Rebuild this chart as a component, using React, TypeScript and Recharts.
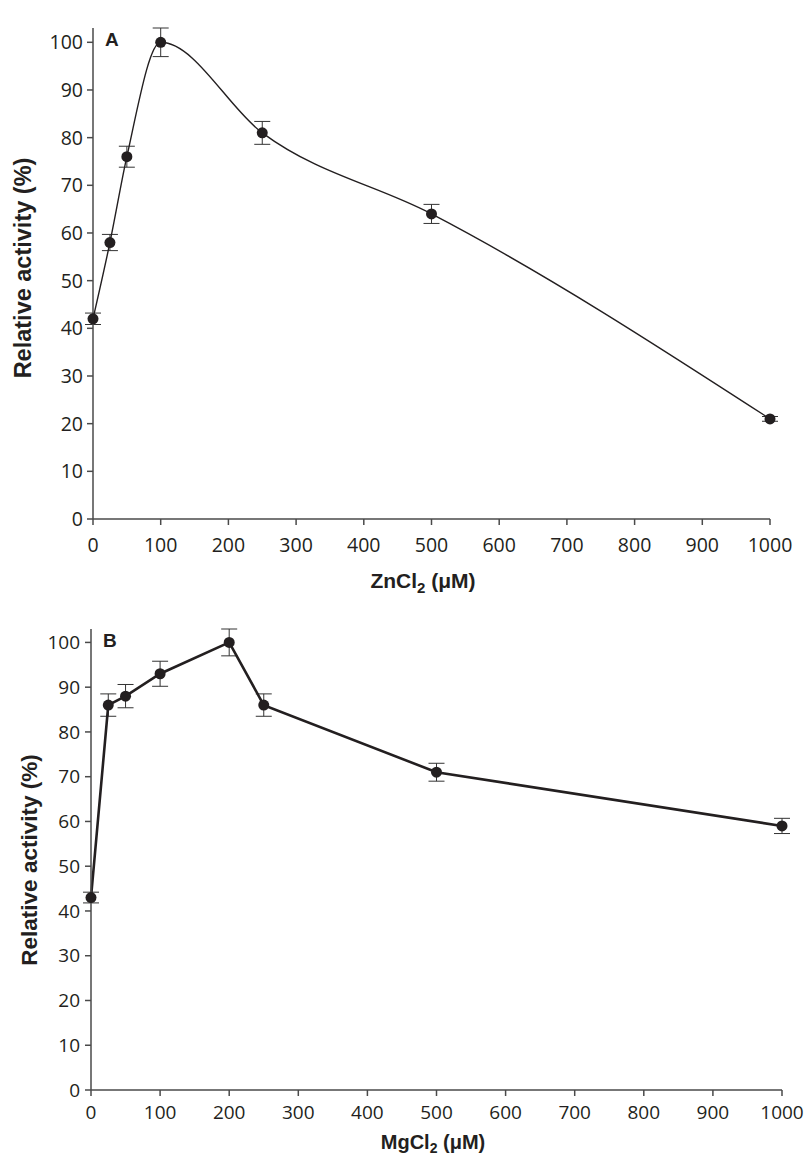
import { LineChart, Line, XAxis, YAxis, ErrorBar } from 'recharts';

// Panel A — ZnCl2
const znConc = [0, 25, 50, 100, 250, 500, 1000];
const znActivity = [42, 58, 76, 100, 81, 64, 21];
const znError = [1.2, 1.7, 2.2, 3, 2.4, 2, 0.5];

// Panel B — MgCl2
const mgConc = [0, 25, 50, 100, 200, 250, 500, 1000];
const mgActivity = [43, 86, 88, 93, 100, 86, 71, 59];
const mgError = [1.2, 2.5, 2.6, 2.8, 3, 2.5, 2, 1.7];

const xTicks = [0, 100, 200, 300, 400, 500, 600, 700, 800, 900, 1000];
const yTicks = [0, 10, 20, 30, 40, 50, 60, 70, 80, 90, 100];

const INK = '#231f20';
const AXIS = '#4a4a4a';
const TICK_FONT = '"Open Sans", "DejaVu Sans", sans-serif';
const TITLE_FONT = '"Liberation Sans", Arial, sans-serif';

const znData = znConc.map((x, i) => ({ x, y: znActivity[i], err: znError[i] }));
const mgData = mgConc.map((x, i) => ({ x, y: mgActivity[i], err: mgError[i] }));

type PanelProps = {
  data: { x: number; y: number; err: number }[];
  top: number;
  height: number;
  marginTop: number;
  marginRight: number;
  yAxisWidth: number;
  xAxisHeight: number;
  curve: 'monotone' | 'linear';
  lineWidth: number;
  xTickSize: number;
  yTickSize: number;
  xTickMargin: number;
  yTickMargin: number;
};

function Panel(p: PanelProps) {
  return (
    <div style={{ position: 'absolute', left: 0, top: p.top }}>
      <LineChart
        width={806}
        height={p.height}
        data={p.data}
        margin={{ top: p.marginTop, right: p.marginRight, bottom: 0, left: 0 }}
      >
        <XAxis
          dataKey="x"
          type="number"
          domain={[0, 1000]}
          ticks={xTicks}
          height={p.xAxisHeight}
          tickSize={6}
          tickMargin={p.xTickMargin}
          stroke={AXIS}
          strokeWidth={1.5}
          tick={{ fontSize: p.xTickSize, fill: INK, fontFamily: TICK_FONT }}
        />
        <YAxis
          type="number"
          domain={[0, 100]}
          ticks={yTicks}
          width={p.yAxisWidth}
          tickSize={6}
          tickMargin={p.yTickMargin}
          stroke={AXIS}
          strokeWidth={1.5}
          tick={{ fontSize: p.yTickSize, fill: INK, fontFamily: TICK_FONT }}
        />
        <Line
          type={p.curve}
          dataKey="y"
          stroke={INK}
          strokeWidth={p.lineWidth}
          dot={{ r: 5.5, fill: INK, stroke: INK, strokeWidth: 0 }}
          activeDot={false}
          isAnimationActive={false}
        >
          <ErrorBar dataKey="err" direction="y" width={8} stroke="#333" strokeWidth={1} />
        </Line>
      </LineChart>
    </div>
  );
}

export default function App() {
  return (
    <div style={{ position: 'absolute', left: 0, top: 0, width: 806, height: 1157, background: '#fff' }}>
      <Panel
        data={znData}
        top={0}
        height={600}
        marginTop={28}
        marginRight={36}
        yAxisWidth={93}
        xAxisHeight={81}
        curve="monotone"
        lineWidth={1.4}
        xTickSize={19.5}
        yTickSize={19.5}
        xTickMargin={13}
        yTickMargin={4}
      />
      <Panel
        data={mgData}
        top={600}
        height={557}
        marginTop={29}
        marginRight={24}
        yAxisWidth={91}
        xAxisHeight={67}
        curve="linear"
        lineWidth={2.6}
        xTickSize={19}
        yTickSize={19}
        xTickMargin={10}
        yTickMargin={5}
      />
      <svg
        width={806}
        height={1157}
        style={{ position: 'absolute', left: 0, top: 0, pointerEvents: 'none' }}
      >
        <g fontFamily={TITLE_FONT} fontWeight="bold" fill={INK}>
          <text x={105} y={46} fontSize={19}>A</text>
          <text x={103} y={647} fontSize={19}>B</text>

          <text x={423} y={588} fontSize={21} textAnchor="middle">
            ZnCl<tspan fontSize={15} dy={5}>2</tspan>
            <tspan dy={-5}> (μM)</tspan>
          </text>
          <text x={433} y={1149} fontSize={20} textAnchor="middle">
            MgCl<tspan fontSize={14} dy={4}>2</tspan>
            <tspan dy={-4}> (μM)</tspan>
          </text>

          <text
            transform="translate(31 268) rotate(-90)"
            fontSize={23.5}
            textAnchor="middle"
          >
            Relative activity (%)
          </text>
          <text
            transform="translate(37 860) rotate(-90)"
            fontSize={22.5}
            textAnchor="middle"
          >
            Relative activity (%)
          </text>
        </g>
      </svg>
    </div>
  );
}
